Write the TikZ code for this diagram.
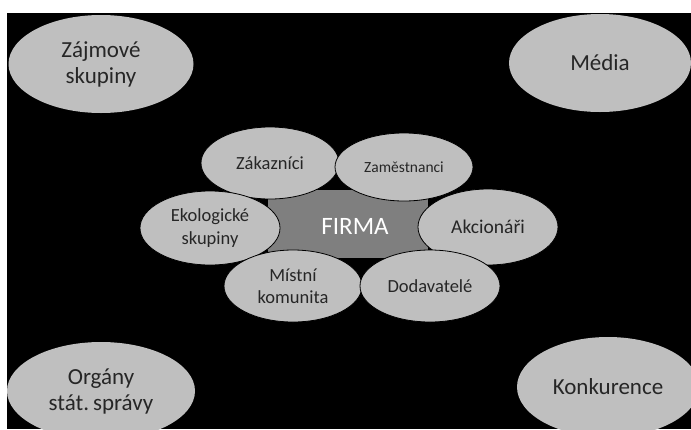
\documentclass[tikz,border=0pt]{standalone}
\usepackage{fontspec}
\setmainfont{Carlito}
\usetikzlibrary{shapes.geometric}
\definecolor{ellfill}{HTML}{BFBFBF}
\definecolor{firmfill}{HTML}{7F7F7F}
\definecolor{txtgray}{HTML}{262626}
\tikzset{
  outer/.style={ellipse, fill=ellfill, draw=none, inner sep=0pt, align=center,
    text=txtgray, font=\fontsize{23}{26}\selectfont},
  inner/.style={ellipse, fill=ellfill, draw=black, line width=0.8pt, inner sep=0pt, align=center,
    text=txtgray, font=\fontsize{18.5}{22.5}\selectfont},
  firmbox/.style={rectangle, fill=firmfill, draw=none, inner sep=0pt,
    text=white, font=\fontsize{25}{28}\selectfont}
}
\begin{document}
\begin{tikzpicture}[x=1pt,y=-1pt]
\useasboundingbox (0,0) rectangle (691,429);
\fill[white] (0,0) rectangle (691,429);
\fill[black] (7,13) rectangle (691,429);
\begin{scope}
\clip (7,13) rectangle (691,429);
\node[outer, minimum width=185pt, minimum height=98pt] (zajm) at (101,64) {Zájmové\\skupiny};
\node[outer, minimum width=182pt, minimum height=98pt] (media) at (600,63) {Média};
\node[outer, minimum width=188pt, minimum height=98pt] (organy) at (101,391) {Orgány\\stát.\,správy};
\node[outer, minimum width=182pt, minimum height=100pt] (konk) at (608,387) {Konkurence};
\end{scope}
\node[firmbox, minimum width=160pt, minimum height=68pt] (firma) at (348,224) {};
\node[inner, minimum width=138pt, minimum height=72pt] (zak) at (270,163) {Zákazníci};
\node[inner, minimum width=138pt, minimum height=68pt, font=\fontsize{15.5}{18}\selectfont] (zam) at (404,167) {Zaměstnanci};
\node[inner, minimum width=140pt, minimum height=74pt] (ekol) at (210,228) {Ekologické\\skupiny};
\node[inner, minimum width=140pt, minimum height=76pt, font=\fontsize{19.5}{22}\selectfont] (akc) at (488,227) {Akcionáři};
\node[inner, minimum width=138pt, minimum height=72pt] (mist) at (293,286) {Místní\\komunita};
\node[inner, minimum width=140pt, minimum height=72pt] (dod) at (430,286) {Dodavatelé};
\node[text=white, font=\fontsize{25}{28}\selectfont] (firmatxt) at (355,226) {FIRMA};
\end{tikzpicture}
\end{document}
